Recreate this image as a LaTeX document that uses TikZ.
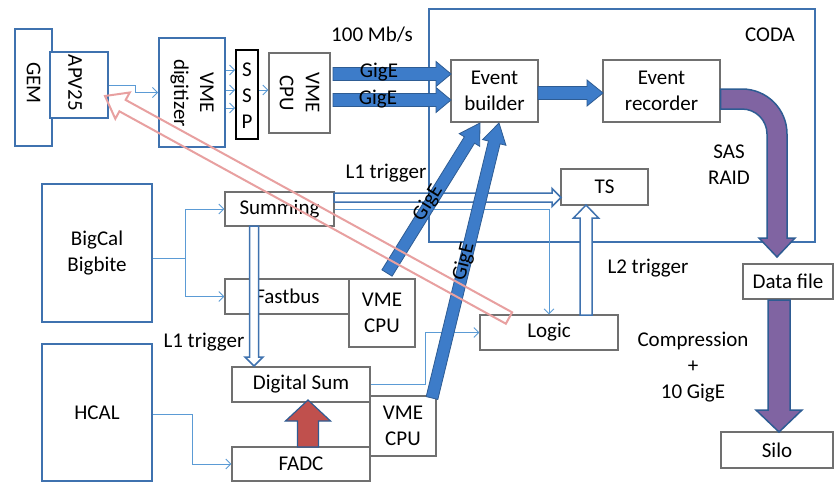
\documentclass[tikz,border=0pt]{standalone}
\usepackage{fontspec}
\setmainfont{Carlito}
\usetikzlibrary{calc,arrows.meta}
\definecolor{bbord}{HTML}{3F72AF}
\definecolor{gbord}{HTML}{707070}
\definecolor{thinc}{HTML}{5B9BD5}
\definecolor{gigf}{HTML}{3D7CC9}
\definecolor{gigb}{HTML}{2E5C93}
\definecolor{purf}{HTML}{8064A2}
\definecolor{redf}{HTML}{C0504D}
\definecolor{pinkc}{HTML}{E8A0A0}
% #1 style, #2 from, #3 to, #4 half shaft, #5 half head, #6 head length
\newcommand\blockarr[6]{%
  \path ($(#3)!#6!(#2)$) coordinate (bah);
  \path[#1] ($(#2)!#4!90:(#3)$) -- ($(bah)!#4!-90:(#2)$) -- ($(bah)!#5!-90:(#2)$) -- (#3) -- ($(bah)!#5!90:(#2)$) -- ($(bah)!#4!90:(#2)$) -- ($(#2)!#4!-90:(#3)$) -- cycle;}
\begin{document}
\begin{tikzpicture}[x=1pt,y=-1pt,
  every node/.style={font=\fontsize{21}{26}\selectfont},
  bluebox/.style={draw=bbord,line width=1.8pt,fill=white,inner sep=0pt,align=center},
  graybox/.style={draw=gbord,line width=1.1pt,fill=white,inner sep=0pt,align=center},
  thinarr/.style={draw=thinc,line width=0.9pt,-{Straight Barb[length=5pt,width=10pt]}},
  txt/.style={align=center,inner sep=0pt},
  outarr/.style={draw=bbord,fill=white,line width=1.5pt},
  gigarr/.style={fill=gigf,draw=gigb,line width=0.8pt},
  pinkarr/.style={draw=pinkc,line width=2pt}]
\useasboundingbox (0,0) rectangle (835,483);
\fill[white] (0,0) rectangle (835,483);

% CODA frame
\node[draw=bbord,line width=1.8pt,minimum width=386pt,minimum height=233pt,inner sep=0pt] (coda) at (622,125.5) {};
\node[txt] (codat) at (770,35) {CODA};

% boxes
\node[bluebox,minimum width=37pt,minimum height=117pt] (gem) at (33.5,87.5) {};
\node[txt,rotate=-90] (gemt) at (33.5,83) {GEM};
\node[bluebox,minimum width=58pt,minimum height=66pt] (apv) at (79,85) {};
\node[txt,rotate=-90] (apvt) at (75,83) {APV25};
\node[bluebox,minimum width=66pt,minimum height=109pt] (dig) at (192,92.5) {};
\node[txt,rotate=-90] (digt) at (192,93) {VME\\digitizer};
\node[graybox,draw=black,line width=1.6pt,minimum width=22pt,minimum height=89pt] (ssp) at (247,94.5) {};
\node[txt] (sspt) at (247,96) {S\\S\\P};
\node[graybox,minimum width=61pt,minimum height=80pt] (vcpu1) at (299.5,93) {};
\node[txt,rotate=-90] (vcpu1t) at (299.5,93) {VME\\CPU};

\node[graybox,minimum width=87pt,minimum height=62pt] (eb) at (494.5,91) {Event\\builder};
\node[graybox,minimum width=117pt,minimum height=62pt] (er) at (661.5,91) {Event\\recorder};
\node[graybox,minimum width=87pt,minimum height=36pt] (ts) at (604.5,187) {TS};
\node[graybox,minimum width=90pt,minimum height=35pt] (datafile) at (788,281.5) {Data file};
\node[graybox,minimum width=112pt,minimum height=36pt] (silo) at (777,450) {Silo};
\node[graybox,minimum width=138pt,minimum height=35pt] (logic) at (549,332.5) {Logic};
\node[bluebox,minimum width=110pt,minimum height=138pt] (bigcal) at (97,253) {BigCal\\Bigbite};
\node[graybox,minimum width=109pt,minimum height=34pt] (summing) at (279.5,209) {Summing};
\node[graybox,minimum width=125pt,minimum height=35pt] (fastbus) at (287.5,296.5) {Fastbus};
\node[graybox,minimum width=66pt,minimum height=68pt] (vcpu2) at (382,313) {VME\\CPU};
\node[bluebox,minimum width=110pt,minimum height=137pt] (hcal) at (97,412.5) {HCAL};
\node[graybox,minimum width=138pt,minimum height=35pt] (dsum) at (301,384.5) {Digital Sum};
\node[graybox,minimum width=138pt,minimum height=34pt] (fadc) at (301,464) {FADC};
\node[graybox,minimum width=66pt,minimum height=60pt] (vcpu3) at (403,426) {VME\\CPU};

% thin connectors
\draw[thinarr] (apv.east) -- ++(27,0) |- (dig.west);
\foreach \yy in {70,90,108} \draw[thinarr] (dig.east |- 0,\yy) -- (ssp.west |- 0,\yy);
\draw[thinarr] (ssp.east |- 0,90) -- (vcpu1.west |- 0,90);
\coordinate (bsplit) at (185,258);
\draw[thinarr] (bigcal.east |- bsplit) -- (bsplit) |- (summing.west);
\draw[thinarr] (bsplit) |- (fastbus.west);
\coordinate (hsplit) at (192,414);
\draw[thinarr] (hcal.east |- hsplit) -- (hsplit) |- (fadc.west);
\draw[thinarr] (summing.east) -| (logic.north);
\draw[thinarr] (dsum.east) -- ++(55,0) |- (logic.west);

% outline (trigger) arrows
\coordinate (l1ha) at (334,197.5); \coordinate (l1hb) at (561,197.5);
\blockarr{outarr}{l1ha}{l1hb}{4.5pt}{9pt}{9pt}
\coordinate (l1va) at (254,226); \coordinate (l1vb) at (254,366);
\blockarr{outarr}{l1va}{l1vb}{4.5pt}{9pt}{9pt}
\coordinate (l2a) at (586,315); \coordinate (l2b) at (586,205);
\blockarr{outarr}{l2a}{l2b}{6pt}{12.5pt}{13pt}

% GigE arrows
\coordinate (g1a) at (333,74); \coordinate (g1b) at (451,74);
\blockarr{gigarr}{g1a}{g1b}{6.5pt}{12.5pt}{15pt}
\coordinate (g2a) at (333,100); \coordinate (g2b) at (451,100);
\blockarr{gigarr}{g2a}{g2b}{6.5pt}{12.5pt}{15pt}
\coordinate (ebra) at (538,93); \coordinate (ebrb) at (603,93);
\blockarr{gigarr}{ebra}{ebrb}{6.5pt}{13pt}{16pt}
\coordinate (gv2a) at (387,273); \coordinate (gv2b) at (480,123);
\blockarr{gigarr}{gv2a}{gv2b}{6pt}{12pt}{20pt}
\coordinate (gv3a) at (432,398); \coordinate (gv3b) at (499,123);
\blockarr{gigarr}{gv3a}{gv3b}{6pt}{12pt}{20pt}

% red arrow FADC -> Digital Sum
\coordinate (ra) at (308,447); \coordinate (rb) at (308,400);
\blockarr{fill=redf,draw=gigb,line width=1.2pt}{ra}{rb}{10.5pt}{22.5pt}{21pt}

% purple arrows
\path[fill=purf,draw=gigb,line width=1.5pt] (er.east |- 0,89) -- (742,89) .. controls (766.9,89) and (787,109.1) .. (787,134) -- (787,238) -- (795,238) -- (777,257) -- (759,238) -- (767,238) -- (767,134) .. controls (767,120.2) and (755.8,109) .. (742,109) -- (er.east |- 0,109) -- cycle;
\coordinate (pa) at (779,300); \coordinate (pb) at (779,432);
\blockarr{fill=purf,draw=gigb,line width=1.5pt}{pa}{pb}{11pt}{23pt}{22pt}

% labels
\node[txt] (l100) at (372,35) {100 Mb/s};
\node[txt] (lg1) at (379,72) {GigE};
\node[txt] (lg2) at (378,99) {GigE};
\node[txt] (ll1a) at (386,173) {L1 trigger};
\node[txt] (ll1b) at (204,342) {L1 trigger};
\node[txt] (lsas) at (729,165) {SAS\\RAID};
\node[txt] (ll2) at (648,268) {L2 trigger};
\node[txt] (lcomp) at (693,367) {Compression\\+\\10 GigE};
\node[txt,rotate=58] (lg3) at (428,203) {GigE};
\node[txt,rotate=76] (lg4) at (464,262) {GigE};

% pink arrow Logic -> APV25
\coordinate (pka) at (509,318); \coordinate (pkb) at (105,96);
\blockarr{pinkarr}{pka}{pkb}{6.5pt}{15pt}{20pt}
\end{tikzpicture}
\end{document}
